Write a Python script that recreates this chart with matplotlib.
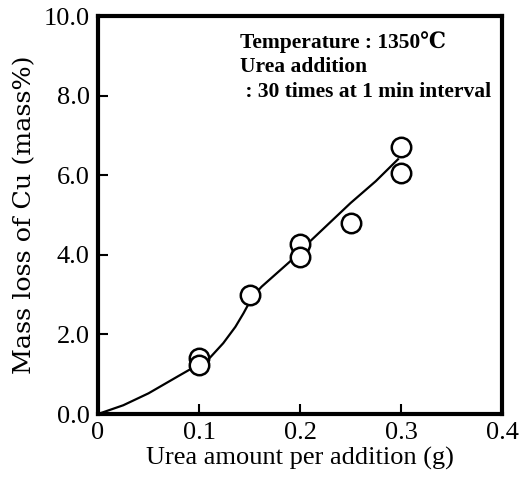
import numpy as np
import matplotlib.pyplot as plt

plt.rcParams['font.family'] = ['Liberation Serif', 'DejaVu Serif']

# measured points
urea_g = [0.1, 0.1, 0.15, 0.2, 0.2, 0.25, 0.3, 0.3]
cu_loss = [1.40, 1.22, 2.99, 4.27, 3.95, 4.80, 6.70, 6.06]

# hand-drawn trend curve
curve_x = [0, 0.025, 0.05, 0.08, 0.1, 0.111, 0.124, 0.136, 0.144, 0.153, 0.162, 0.19, 0.2, 0.225, 0.25, 0.275, 0.297]
curve_y = [0, 0.22, 0.52, 0.96, 1.25, 1.42, 1.78, 2.19, 2.53, 2.95, 3.20, 3.83, 4.10, 4.70, 5.30, 5.85, 6.40]

xticks = [0, 0.1, 0.2, 0.3, 0.4]
xlabels = ['0', '0.1', '0.2', '0.3', '0.4']
yticks = [0, 2, 4, 6, 8, 10]
ylabels = ['0.0', '2.0', '4.0', '6.0', '8.0', '10.0']

fig = plt.figure(figsize=(5.31, 4.84), dpi=100)
ax = fig.add_axes([0.1846, 0.1446, 0.7608, 0.8223])

ax.plot(curve_x, curve_y, color='black', lw=1.6, solid_joinstyle='round')
ax.plot(urea_g, cu_loss, 'o', ms=14, mfc='white', mec='black', mew=1.8, ls='none')

ax.set_xlim(0, 0.4)
ax.set_ylim(0, 10)
ax.set_xticks(xticks)
ax.set_xticklabels(xlabels)
ax.set_yticks(yticks)
ax.set_yticklabels(ylabels)
ax.tick_params(direction='in', length=7, width=1.5, labelsize=19, pad=6)
for s in ax.spines.values():
    s.set_linewidth(3)

ax.set_xlabel('Urea amount per addition (g)', fontsize=19, labelpad=2)
ax.set_ylabel('Mass loss of Cu (mass%)', fontsize=18.3, family='DejaVu Serif', labelpad=5)

ax.text(0.351, 0.962, 'Temperature : 1350\u2103\nUrea addition\n : 30 times at 1 min interval',
        transform=ax.transAxes, fontsize=15.5, fontweight='bold', va='top', ha='left',
        linespacing=1.3)

fig.savefig('out.png', dpi=100)
